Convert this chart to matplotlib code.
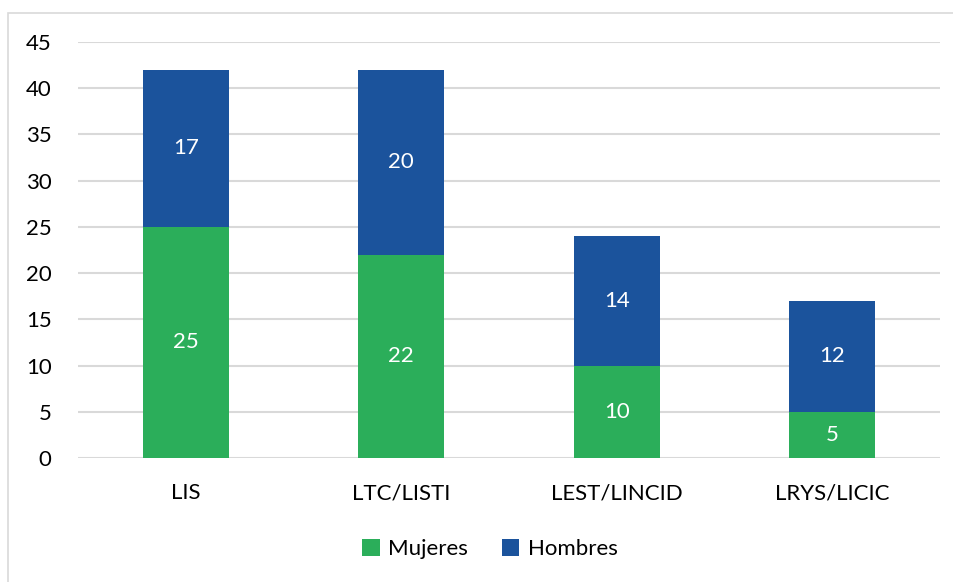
import matplotlib.pyplot as plt
import numpy as np
from matplotlib.patches import Rectangle

plt.rcParams['font.family'] = ['Lato', 'DejaVu Sans']

# datos
carreras = ['LIS', 'LTC/LISTI', 'LEST/LINCID', 'LRYS/LICIC']
mujeres = [25, 22, 10, 5]
hombres = [17, 20, 14, 12]

verde = '#2BAE5A'
azul = '#1B539C'

fig = plt.figure(figsize=(9.54, 5.82), dpi=100)
ax = fig.add_axes([78 / 954, 1 - 458 / 582, 862 / 954, 416 / 582])

# marco del grafico
fig.patches.append(Rectangle((8 / 954, -0.1), 1.2, 1 - 13 / 582 + 0.1,
                             transform=fig.transFigure, fill=False,
                             edgecolor='#D9D9D9', linewidth=1.2))

x = np.arange(len(carreras))
b1 = ax.bar(x, mujeres, width=0.4, color=verde, label='Mujeres', zorder=3)
b2 = ax.bar(x, hombres, width=0.4, bottom=mujeres, color=azul,
            label='Hombres', zorder=3)

for barras in (b1, b2):
    ax.bar_label(barras, label_type='center', color='white', fontsize=16)

ax.set_xlim(-0.5, 3.5)
ax.set_ylim(0, 45)
ax.set_yticks(range(0, 46, 5))
ax.set_xticks(x)
ax.set_xticklabels(carreras)
ax.grid(axis='y', color='#D9D9D9', linewidth=1.5, zorder=0)
for s in ax.spines.values():
    s.set_visible(False)
ax.tick_params(length=0, labelsize=16, colors='black')
ax.tick_params(axis='x', pad=18)
ax.tick_params(axis='y', pad=19)

fig.legend(loc='center', bbox_to_anchor=(490 / 954, 1 - 549 / 582), ncol=2,
           frameon=False, fontsize=16, handlelength=0.8, handleheight=0.8,
           handletextpad=0.4, columnspacing=1.5)

fig.savefig('out.png', dpi=100)
